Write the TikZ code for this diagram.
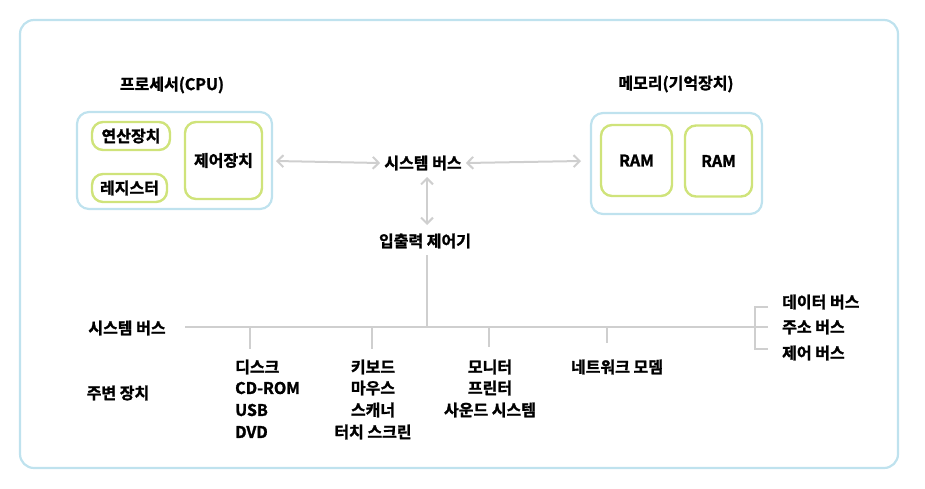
\documentclass[tikz,border=0pt]{standalone}
\usepackage{fontspec}
\setmainfont{Noto Sans CJK KR Bold}[FakeBold=1.5,UprightFeatures={FakeBold=1.5}]
\usetikzlibrary{arrows.meta}
\definecolor{frameblue}{HTML}{BFE2EE}
\definecolor{boxgreen}{HTML}{CFE37A}
\definecolor{busgray}{HTML}{CFCFCF}
\tikzset{
  lbl/.style={font=\fontsize{16}{18}\selectfont, inner sep=1pt},
  outerbox/.style={draw=frameblue, line width=2.2pt, rounded corners=12pt},
  innerbox/.style={draw=boxgreen, line width=2.4pt, rounded corners=11pt, font=\fontsize{16}{18}\selectfont},
  bus/.style={draw=busgray, line width=2pt},
  dbl/.style={bus, {Straight Barb[length=6pt,width=12pt]}-{Straight Barb[length=6pt,width=12pt]}},
}
\begin{document}
\begin{tikzpicture}[x=1pt,y=-1pt]
\useasboundingbox (0,0) rectangle (925,488);
\draw[outerbox, rounded corners=14pt] (20,20) rectangle (898,468);

% CPU
\node[lbl] (cputitle) at (172,85) {프로세서(CPU)};
\draw[outerbox] (77,112) rectangle (272,209);
\node[innerbox, minimum width=78pt, minimum height=28pt] (alu) at (131,136) {연산장치};
\node[innerbox, minimum width=75pt, minimum height=28pt] (reg) at (129.5,188) {레지스터};
\node[innerbox, minimum width=77pt, minimum height=77pt] (cu) at (223.5,160.5) {제어장치};
\coordinate (cpuR) at (272,161);

% Memory
\node[lbl] (memtitle) at (676,84) {메모리(기억장치)};
\draw[outerbox] (591,113) rectangle (762,214);
\node[innerbox, minimum width=71pt, minimum height=71pt] (ram1) at (636.5,160.5) {RAM};
\node[innerbox, minimum width=67pt, minimum height=71pt] (ram2) at (718.5,161) {RAM};
\coordinate (memL) at (591,161);

% system bus top
\node[lbl] (sysbus) at (423,163) {시스템 버스};
\node[lbl] (ioc) at (425,241) {입출력 제어기};
\draw[dbl] ([xshift=4pt]cpuR) -- ([xshift=-3pt]sysbus.west);
\draw[dbl] ([xshift=3pt]sysbus.east) -- ([xshift=-10pt]memL);
\draw[dbl] (427,177) -- (427,225);

% lower bus
\coordinate (busL) at (185,327);
\coordinate (busR) at (755,327);
\coordinate (busT) at (427,255);
\draw[bus] (busT) -- (427,327);
\draw[bus] (busL) -- (busR);
\draw[bus] (768,307) -- (755,307) -- (755,349) -- (768,349);
\draw[bus] (755,327) -- (768,327);
\draw[bus] (250,327) -- (250,349);
\draw[bus] (372,327) -- (372,349);
\draw[bus] (489,327) -- (489,347);
\draw[bus] (607,327) -- (607,343);

\node[lbl] (lsys) at (127,328) {시스템 버스};
\node[lbl] (lper) at (118,393) {주변 장치};

\node[lbl, anchor=west] (d1) at (234,367) {디스크};
\node[lbl, anchor=west] (d2) at (234,388) {CD-ROM};
\node[lbl, anchor=west] (d3) at (234,410) {USB};
\node[lbl, anchor=west] (d4) at (234,432) {DVD};

\node[lbl] (k1) at (373,367) {키보드};
\node[lbl] (k2) at (373,388) {마우스};
\node[lbl] (k3) at (373,410) {스캐너};
\node[lbl] (k4) at (373,432) {터치 스크린};

\node[lbl] (m1) at (490,367) {모니터};
\node[lbl] (m2) at (490,388) {프린터};
\node[lbl] (m3) at (490,410) {사운드 시스템};

\node[lbl] (n1) at (617,367) {네트워크 모뎀};

\node[lbl, anchor=west] (b1) at (781,302) {데이터 버스};
\node[lbl, anchor=west] (b2) at (781,327) {주소 버스};
\node[lbl, anchor=west] (b3) at (781,353) {제어 버스};
\end{tikzpicture}
\end{document}
